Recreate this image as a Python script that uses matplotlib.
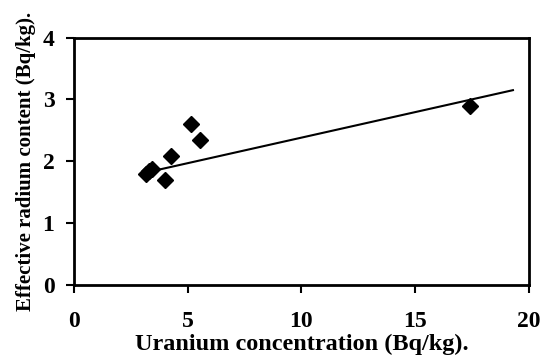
import matplotlib
matplotlib.use('Agg')
import matplotlib.pyplot as plt

uranium = [3.15, 3.3, 3.45, 3.99, 4.25, 5.13, 5.54, 17.41]
radium = [1.80, 1.84, 1.88, 1.70, 2.08, 2.61, 2.35, 2.90]

trend_x = [3.8, 19.3]
trend_y = [1.87, 3.15]

plt.rcParams['font.family'] = 'Liberation Serif'
plt.rcParams['font.weight'] = 'bold'

fig = plt.figure(figsize=(5.43, 3.58), dpi=100)
ax = fig.add_axes([0.136, 0.204, 0.838, 0.691])

ax.plot(uranium, radium, 'kD', markersize=8.5, clip_on=False)
ax.plot(trend_x, trend_y, 'k-', linewidth=1.5)

ax.set_xlim(0, 20)
ax.set_ylim(0, 4)
ax.set_xticks([0, 5, 10, 15, 20])
ax.set_yticks([0, 1, 2, 3, 4])
for s in ax.spines.values():
    s.set_linewidth(2)
ax.tick_params(direction='out', length=6, width=1.5, labelsize=17)
ax.tick_params(axis='x', pad=13)
ax.tick_params(axis='y', pad=8)
for t in ax.get_xticklabels() + ax.get_yticklabels():
    t.set_fontweight('bold')

ax.set_xlabel('Uranium concentration (Bq/kg).', fontsize=17.5, fontweight='bold', labelpad=1)
ax.set_ylabel('Effective radium content (Bq/kg).', fontsize=15, fontweight='bold', labelpad=5)

fig.savefig('out.png', dpi=100)
